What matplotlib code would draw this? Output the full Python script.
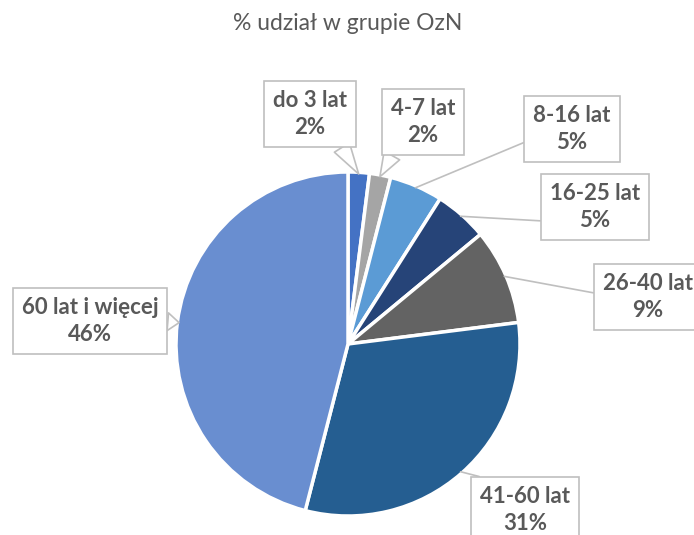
import numpy as np
import matplotlib.pyplot as plt

plt.rcParams['font.family'] = ['Lato', 'DejaVu Sans']

groups = ['do 3 lat', '4-7 lat', '8-16 lat', '16-25 lat', '26-40 lat', '41-60 lat', '60 lat i więcej']
shares = [2, 2, 5, 5, 9, 31, 46]
colors = ['#4472C4', '#A5A5A5', '#5B9BD5', '#264478', '#636363', '#255E91', '#698ED0']

# label box centres in pixels, plus where the leader leaves the box (relpos)
label_px = [(310, 114), (423, 122), (572, 129), (595, 207), (648, 297), (525, 510), (90, 321)]
rel = [(0.85, 0.0), (0.1, 0.0), (0.0, 0.3), (0.0, 0.2), (0.0, 0.55), (0.4, 1.0), (1.0, 0.5)]
wedge_style = [True, True, False, False, False, False, True]

W, H = 694, 535
cx, cy, r = 348, 344, 172

fig = plt.figure(figsize=(W / 100, H / 100), dpi=100)
ax = fig.add_axes([(cx - r) / W, (H - cy - r) / H, 2 * r / W, 2 * r / H])

wedges, _ = ax.pie(shares, colors=colors, startangle=90, counterclock=False, radius=1,
                   wedgeprops=dict(edgecolor='white', linewidth=2.5))
ax.set_xlim(-1, 1)
ax.set_ylim(-1, 1)
ax.set_aspect('equal')
ax.axis('off')

fig.text(cx / W, 1 - 24 / H, '% udział w grupie OzN', ha='center', va='center',
         fontsize=16.5, color='#595959')

line_c = '#BFBFBF'
for w, name, val, (px, py), rp, wst in zip(wedges, groups, shares, label_px, rel, wedge_style):
    mid = np.deg2rad((w.theta1 + w.theta2) / 2)
    tip = (0.99 * np.cos(mid), 0.99 * np.sin(mid))
    pos = ((px - cx) / r, (cy - py) / r)
    if wst:
        arrow = dict(arrowstyle='wedge,tail_width=0.8', fc='white', ec=line_c, lw=1.2,
                     relpos=rp, shrinkA=0, shrinkB=0)
    else:
        arrow = dict(arrowstyle='-', color=line_c, lw=1.2, relpos=rp, shrinkA=0, shrinkB=0)
    ax.annotate(f'{name}\n{val}%', xy=tip, xytext=pos, ha='center', va='center',
                fontsize=16, fontweight='bold', color='#595959', linespacing=1.35,
                bbox=dict(boxstyle='square,pad=0.4', fc='white', ec=line_c, lw=1.2),
                arrowprops=arrow, annotation_clip=False)

fig.savefig('out.png', dpi=100, facecolor='white')
